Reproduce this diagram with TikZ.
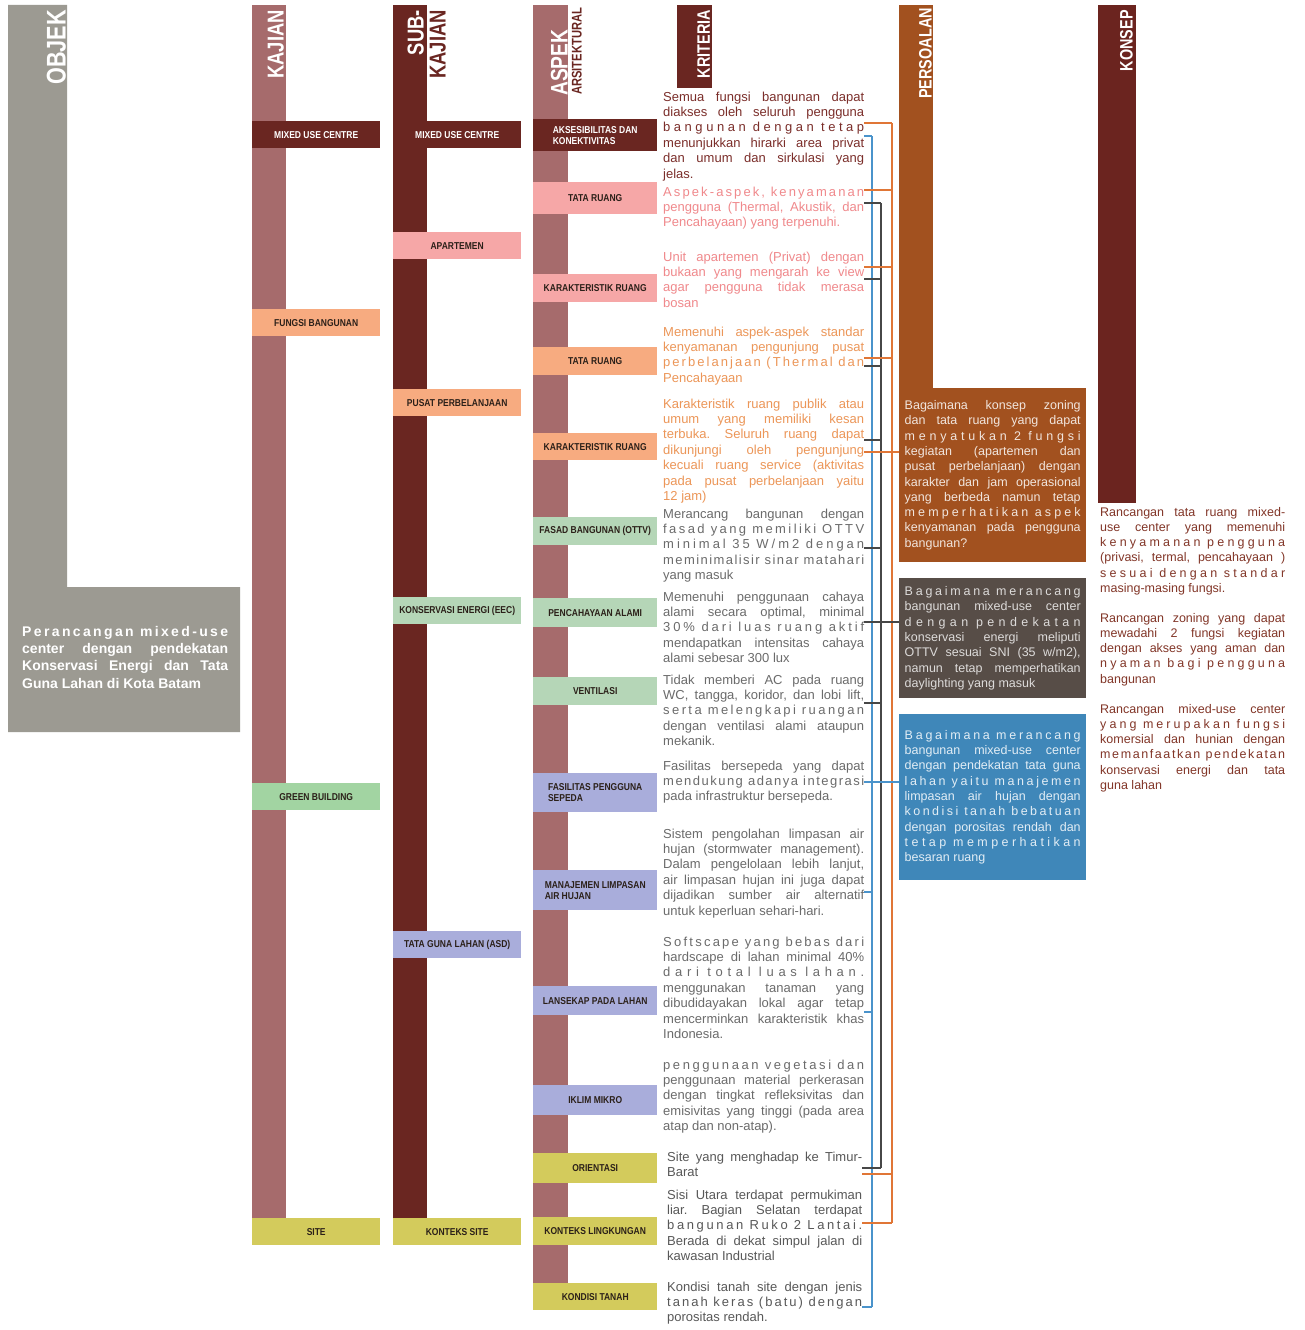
\documentclass[tikz,border=0pt]{standalone}
\usepackage{fontspec}
\setmainfont{Liberation Sans}
\newfontfamily\headfont[FakeStretch=0.8]{Liberation Sans}
\newfontfamily\boxfont[FakeStretch=0.85]{Liberation Sans}
\AtBeginDocument{\frenchspacing\tolerance=10000\hbadness=10000}
% a line whose letters are spread to the full width
\newcommand{\spreadline}[1]{\hbox to \linewidth{\XeTeXinterchartokenstate=1
  \XeTeXinterchartoks 0 0 = {\hskip 0pt plus 1fil\relax}\spaceskip=\fontdimen2\font plus 1fil\relax #1}}

\definecolor{objgray}{HTML}{9C9A92}
\definecolor{barmauve}{HTML}{A66B6C}
\definecolor{darkmaroon}{HTML}{6A2621}
\definecolor{boxpink}{HTML}{F6A7A7}
\definecolor{boxpeach}{HTML}{F7AB80}
\definecolor{boxgreen}{HTML}{B5D6B7}
\definecolor{kajgreen}{HTML}{A2D4A2}
\definecolor{boxlav}{HTML}{A9ADDB}
\definecolor{boxolive}{HTML}{D3CB5C}
\definecolor{persbrown}{HTML}{A2511F}
\definecolor{persgray}{HTML}{574D47}
\definecolor{persblue}{HTML}{3F87B9}
\definecolor{konsepbar}{HTML}{6B241F}
\definecolor{txtmaroon}{HTML}{7B2E2A}
\definecolor{txtpink}{HTML}{F0898C}
\definecolor{txtorange}{HTML}{EC9658}
\definecolor{txtgray}{HTML}{6B6B6B}
\definecolor{txtsite}{HTML}{585858}
\definecolor{txtkonsep}{HTML}{823628}
\definecolor{lnorange}{HTML}{E07636}
\definecolor{lnblue}{HTML}{4A93CB}
\definecolor{lngray}{HTML}{474747}
\definecolor{boxtxt}{HTML}{2B2019}

\tikzset{
  head/.style={rotate=90,anchor=south east,inner sep=0pt,text=white},
  kbox/.style={anchor=north west,inner sep=0pt,align=left,font=\boxfont\bfseries\fontsize{10}{11}\selectfont},
  krit/.style={anchor=base west,inner sep=0pt,text width=201pt,align=justify,font=\fontsize{13}{15.4}\selectfont},
  pbox/.style={anchor=north west,inner xsep=5.5pt,inner ysep=0pt,text width=176pt,align=justify,font=\fontsize{12.5}{15.3}\selectfont},
  konsep/.style={anchor=base west,inner sep=0pt,text width=185pt,align=justify,text=txtkonsep,font=\fontsize{12.5}{15.3}\selectfont},
  oline/.style={lnorange,line width=1.6pt},
  bline/.style={lnblue,line width=1.6pt},
  gline/.style={lngray,line width=1.6pt}
}

\begin{document}
\begin{tikzpicture}[x=1pt,y=-1pt]
\useasboundingbox (0,0) rectangle (1305,1330);
\fill[white] (0,0) rectangle (1305,1330);

% the column bars
\fill[objgray] (8,5) -- (67,5) -- (67,587) -- (240,587) -- (240,732) -- (8,732) -- cycle;
\fill[barmauve] (252,5) rectangle (286,1218);
\fill[darkmaroon] (393,5) rectangle (427,1218);
\fill[barmauve] (533,5) rectangle (568,1300);
\fill[darkmaroon] (677,5) rectangle (712,88);
\fill[persbrown] (899,5) rectangle (933,390);
\fill[konsepbar] (1098,5) rectangle (1136,503);

% column titles
\node[head,font=\headfont\bfseries\fontsize{27}{27}\selectfont] (tobj) at (66,10) {OBJEK};
\node[head,font=\headfont\bfseries\fontsize{23}{23}\selectfont] (tkaj) at (284,10) {KAJIAN};
\node[head,font=\headfont\bfseries\fontsize{23}{23}\selectfont] (tsub) at (424,10) {SUB-};
\node[head,text=darkmaroon,font=\headfont\bfseries\fontsize{23}{23}\selectfont] (tsub2) at (446,10) {KAJIAN};
\node[head,anchor=south west,font=\headfont\bfseries\fontsize{24}{24}\selectfont] (tasp) at (568,96) {ASPEK};
\node[head,anchor=south west,text=darkmaroon,font=\headfont\bfseries\fontsize{14}{14}\selectfont] (tasp2) at (582,95) {ARSITEKTURAL};
\node[head,font=\headfont\bfseries\fontsize{18}{18}\selectfont] (tkri) at (710,10) {KRITERIA};
\node[head,font=\headfont\bfseries\fontsize{18}{18}\selectfont] (tper) at (932,8) {PERSOALAN};
\node[head,font=\headfont\bfseries\fontsize{18}{18}\selectfont] (tkon) at (1133,10) {KONSEP};

\node[anchor=base west,inner sep=0pt,text width=206pt,align=justify,text=white,font=\bfseries\fontsize{14}{17.4}\selectfont] (obj) at (22,636)
  {\spreadline{Perancangan mixed-use}\linebreak center dengan pendekatan\linebreak Konservasi Energi dan Tata\linebreak Guna Lahan di Kota Batam};

% kajian and sub-kajian boxes
\foreach \n/\x/\y/\c/\tc/\t in {k1/252/121/darkmaroon/white/{MIXED USE CENTRE}, k2/252/309/boxpeach/boxtxt/{FUNGSI BANGUNAN},
  k3/252/783/kajgreen/boxtxt/{GREEN BUILDING}, k4/252/1218/boxolive/boxtxt/{SITE},
  s1/393/121/darkmaroon/white/{MIXED USE CENTRE}, s2/393/232/boxpink/boxtxt/{APARTEMEN}, s3/393/389/boxpeach/boxtxt/{PUSAT PERBELANJAAN},
  s4/393/597/boxgreen/boxtxt/{KONSERVASI ENERGI (EEC)}, s5/393/931/boxlav/boxtxt/{TATA GUNA LAHAN (ASD)}, s6/393/1218/boxolive/boxtxt/{KONTEKS SITE}}
  \node[kbox,fill=\c,text=\tc,minimum width=128pt,minimum height=27pt] (\n) at (\x,\y) {\t};

% aspek arsitektural boxes
\foreach \n/\y/\h/\c/\tc/\t in {a1/119/32/darkmaroon/white/{AKSESIBILITAS DAN\\KONEKTIVITAS}, a2/182/32/boxpink/boxtxt/{TATA RUANG},
  a3/274/28/boxpink/boxtxt/{KARAKTERISTIK RUANG}, a4/347/28/boxpeach/boxtxt/{TATA RUANG}, a5/433/27/boxpeach/boxtxt/{KARAKTERISTIK RUANG},
  a6/517/28/boxgreen/boxtxt/{FASAD BANGUNAN (OTTV)}, a7/598/29/boxgreen/boxtxt/{PENCAHAYAAN ALAMI}, a8/677/28/boxgreen/boxtxt/{VENTILASI},
  a9/773/39/boxlav/boxtxt/{FASILITAS PENGGUNA\\SEPEDA}, a10/870/40/boxlav/boxtxt/{MANAJEMEN LIMPASAN\\AIR HUJAN},
  a11/986/29/boxlav/boxtxt/{LANSEKAP PADA LAHAN}, a12/1085/30/boxlav/boxtxt/{IKLIM MIKRO}, a13/1153/30/boxolive/boxtxt/{ORIENTASI},
  a14/1217/28/boxolive/boxtxt/{KONTEKS LINGKUNGAN}, a15/1283/27/boxolive/boxtxt/{KONDISI TANAH}}
  \node[kbox,fill=\c,text=\tc,minimum width=124pt,minimum height=\h pt] (\n) at (533,\y) {\t};

% kriteria
\node[krit,text=txtmaroon] (c1) at (663,101) {Semua fungsi bangunan dapat\linebreak diakses oleh seluruh pengguna\linebreak \spreadline{bangunan dengan tetap}\linebreak menunjukkan hirarki area privat\linebreak dan umum dan sirkulasi yang\linebreak jelas.};
\node[krit,text=txtpink] (c2) at (663,196) {\spreadline{Aspek-aspek, kenyamanan}\linebreak pengguna (Thermal, Akustik, dan\linebreak Pencahayaan) yang terpenuhi.};
\node[krit,text=txtpink] (c3) at (663,261) {Unit apartemen (Privat) dengan\linebreak bukaan yang mengarah ke view\linebreak agar pengguna tidak merasa\linebreak bosan};
\node[krit,text=txtorange] (c4) at (663,336) {Memenuhi aspek-aspek standar\linebreak kenyamanan pengunjung pusat\linebreak \spreadline{perbelanjaan (Thermal dan}\linebreak Pencahayaan};
\node[krit,text=txtorange] (c5) at (663,408) {Karakteristik ruang publik atau\linebreak umum yang memiliki kesan\linebreak terbuka. Seluruh ruang dapat\linebreak dikunjungi oleh pengunjung\linebreak kecuali ruang service (aktivitas\linebreak pada pusat perbelanjaan yaitu\linebreak 12 jam)};
\node[krit,text=txtgray] (c6) at (663,518) {Merancang bangunan dengan\linebreak \spreadline{fasad yang memiliki OTTV}\linebreak \spreadline{minimal 35 W/m2 dengan}\linebreak \spreadline{meminimalisir sinar matahari}\linebreak yang masuk};
\node[krit,text=txtgray] (c7) at (663,601) {Memenuhi penggunaan cahaya\linebreak alami secara optimal, minimal\linebreak \spreadline{30\% dari luas ruang aktif}\linebreak mendapatkan intensitas cahaya\linebreak alami sebesar 300 lux};
\node[krit,text=txtgray] (c8) at (663,684) {Tidak memberi AC pada ruang\linebreak WC, tangga, koridor, dan lobi lift,\linebreak \spreadline{serta melengkapi ruangan}\linebreak dengan ventilasi alami ataupun\linebreak mekanik.};
\node[krit,text=txtgray] (c9) at (663,770) {Fasilitas bersepeda yang dapat\linebreak \spreadline{mendukung adanya integrasi}\linebreak pada infrastruktur bersepeda.};
\node[krit,text=txtgray] (c10) at (663,838) {Sistem pengolahan limpasan air\linebreak hujan (stormwater management).\linebreak Dalam pengelolaan lebih lanjut,\linebreak air limpasan hujan ini juga dapat\linebreak dijadikan sumber air alternatif\linebreak untuk keperluan sehari-hari.};
\node[krit,text=txtgray] (c11) at (663,946) {\spreadline{Softscape yang bebas dari}\linebreak hardscape di lahan minimal 40\%\linebreak \spreadline{dari total luas lahan.}\linebreak menggunakan tanaman yang\linebreak dibudidayakan lokal agar tetap\linebreak mencerminkan karakteristik khas\linebreak Indonesia.};
\node[krit,text=txtgray] (c12) at (663,1069) {\spreadline{penggunaan vegetasi dan}\linebreak penggunaan material perkerasan\linebreak dengan tingkat refleksivitas dan\linebreak emisivitas yang tinggi (pada area\linebreak atap dan non-atap).};
\node[krit,text=txtsite,text width=195pt] (c13) at (667,1161) {Site yang menghadap ke Timur-\linebreak Barat};
\node[krit,text=txtsite,text width=195pt] (c14) at (667,1199) {Sisi Utara terdapat permukiman\linebreak liar. Bagian Selatan terdapat\linebreak \spreadline{bangunan Ruko 2 Lantai.}\linebreak Berada di dekat simpul jalan di\linebreak kawasan Industrial};
\node[krit,text=txtsite,text width=195pt] (c15) at (667,1291) {Kondisi tanah site dengan jenis\linebreak \spreadline{tanah keras (batu) dengan}\linebreak porositas rendah.};

% persoalan
\node[pbox,fill=persbrown,text=white!85!persbrown,minimum height=174pt] (p1) at (899,388) {Bagaimana konsep zoning\linebreak dan tata ruang yang dapat\linebreak \spreadline{menyatukan 2 fungsi}\linebreak kegiatan (apartemen dan\linebreak pusat perbelanjaan) dengan\linebreak karakter dan jam operasional\linebreak yang berbeda namun tetap\linebreak \spreadline{memperhatikan aspek}\linebreak kenyamanan pada pengguna\linebreak bangunan?};
\node[pbox,fill=persgray,text=white!80!persgray,minimum height=120pt] (p2) at (899,578) {\spreadline{Bagaimana merancang}\linebreak bangunan mixed-use center\linebreak \spreadline{dengan pendekatan}\linebreak konservasi energi meliputi\linebreak OTTV sesuai SNI (35 w/m2),\linebreak namun tetap memperhatikan\linebreak daylighting yang masuk};
\node[pbox,fill=persblue,text=white!85!persblue,minimum height=166pt] (p3) at (899,714) {\spreadline{Bagaimana merancang}\linebreak bangunan mixed-use center\linebreak dengan pendekatan tata guna\linebreak \spreadline{lahan yaitu manajemen}\linebreak limpasan air hujan dengan\linebreak \spreadline{kondisi tanah bebatuan}\linebreak dengan porositas rendah dan\linebreak \spreadline{tetap memperhatikan}\linebreak besaran ruang};

% konsep
\node[konsep] (kn1) at (1100,516) {Rancangan tata ruang mixed-\linebreak use center yang memenuhi\linebreak \spreadline{kenyamanan pengguna}\linebreak (privasi, termal, pencahayaan )\linebreak \spreadline{sesuai dengan standar}\linebreak masing-masing fungsi.};
\node[konsep] (kn2) at (1100,622) {Rancangan zoning yang dapat\linebreak mewadahi 2 fungsi kegiatan\linebreak dengan akses yang aman dan\linebreak \spreadline{nyaman bagi pengguna}\linebreak bangunan};
\node[konsep] (kn3) at (1100,713) {Rancangan mixed-use center\linebreak \spreadline{yang merupakan fungsi}\linebreak komersial dan hunian dengan\linebreak \spreadline{memanfaatkan pendekatan}\linebreak konservasi energi dan tata\linebreak guna lahan};

% the brackets from kriteria to persoalan
\draw[bline] (872,136) -- (872,1307);
\draw[gline] (881,203) -- (881,1168);
\draw[oline] (892,123) -- (892,1223);

\foreach \c/\y in {c1/136,c10/892,c11/1012,c15/1307} \draw[bline] (\c.east |- 0,\y) -- (872,\y);
\foreach \c/\y in {c2/203,c3/279,c4/366,c5/440,c6/548,c8/703,c13/1168} \draw[gline] (\c.east |- 0,\y) -- (881,\y);
\foreach \c/\y in {c1/123,c2/190,c3/267,c4/358,c13/1174,c14/1223} \draw[oline] (\c.east |- 0,\y) -- (892,\y);

\draw[oline] (c5.east |- 0,452) -- (p1.west |- 0,452);
\draw[gline] (c7.east |- 0,622) -- (p2.west |- 0,622);
\draw[bline] (c9.east |- 0,782) -- (p3.west |- 0,782);

\end{tikzpicture}
\end{document}
